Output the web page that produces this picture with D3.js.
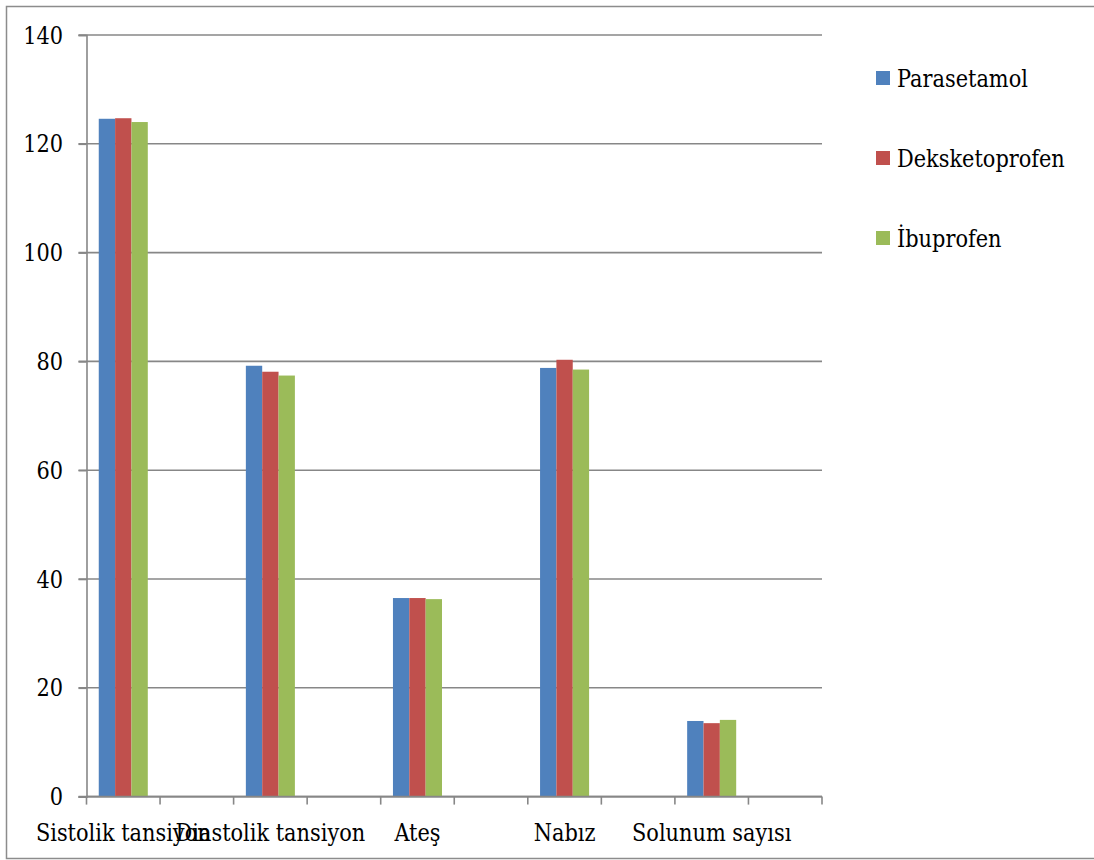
<!DOCTYPE html>
<html>
<head>
<meta charset="utf-8">
<script src="https://cdn.jsdelivr.net/npm/d3@7"></script>
<style>
  html, body { margin: 0; padding: 0; background: #fff; }
  svg { display: block; }
</style>
</head>
<body>
<svg id="chart" width="1094" height="860"></svg>
<script>
const categories = ["Sistolik tansiyon", "Diastolik tansiyon", "Ateş", "Nabız", "Solunum sayısı"];
const seriesNames = ["Parasetamol", "Deksketoprofen", "İbuprofen"];
const parasetamol = [124.6, 79.2, 36.5, 78.8, 13.9];
const deksketoprofen = [124.7, 78.1, 36.5, 80.3, 13.5];
const ibuprofen = [124.0, 77.4, 36.3, 78.5, 14.1];
const yTicks = [0, 20, 40, 60, 80, 100, 120, 140];
const colors = ["#4F81BD", "#C0504D", "#9BBB59"];

(function () {
const seriesValues = [parasetamol, deksketoprofen, ibuprofen];
const svg = d3.select("#chart");
const fontSize = 24;
const sx = 0.87;
const fontFam = '"DejaVu Serif", serif';

// outer frame (right edge cut off)
svg.append("path")
  .attr("d", "M1100,6.5 H6.5 V858.5 H1100")
  .attr("fill", "none").attr("stroke", "#8c8c8c").attr("stroke-width", 1.5);

const pLeft = 86.5, pRight = 822, pTop = 35, pBottom = 796.6;
const nSlots = categories.length * 2;
const x = d3.scaleBand().domain(d3.range(nSlots)).range([pLeft, pRight]).paddingInner(0).paddingOuter(0);
const x1 = d3.scaleBand().domain(d3.range(seriesNames.length)).range([0, x.bandwidth()]).paddingInner(0).paddingOuter(0.75);
const y = d3.scaleLinear().domain([0, 140]).range([pBottom, pTop]);

const gridColor = "#878787";

function label(g, tx, ty, anchor, dy, txt) {
  g.append("text")
    .attr("transform", `translate(${tx},${ty}) scale(${sx},1)`)
    .attr("text-anchor", anchor)
    .attr("dy", dy)
    .attr("font-family", fontFam)
    .attr("font-size", fontSize)
    .attr("fill", "#000")
    .text(txt);
}

// gridlines
svg.append("g").selectAll("line").data(yTicks).join("line")
  .attr("x1", pLeft - 8).attr("x2", pRight)
  .attr("y1", d => y(d)).attr("y2", d => y(d))
  .attr("stroke", gridColor).attr("stroke-width", 1.6);

// y axis
const yAxis = d3.axisLeft(y).tickValues(yTicks).tickSize(8).tickFormat("");
const gy = svg.append("g").attr("transform", `translate(${pLeft},0)`).call(yAxis);
gy.select(".domain").attr("stroke", gridColor).attr("stroke-width", 1.6);
gy.selectAll(".tick line").attr("stroke", gridColor).attr("stroke-width", 1.6);
gy.selectAll(".tick text").remove();
const yl = svg.append("g");
yTicks.forEach(t => label(yl, 63, y(t), "end", "0.36em", d3.format("d")(t)));

// bars
const groups = svg.append("g").selectAll("g").data(categories).join("g")
  .attr("transform", (d, i) => `translate(${x(i * 2)},0)`);
groups.selectAll("rect").data((d, i) => seriesValues.map((s, j) => ({ j, v: s[i] }))).join("rect")
  .attr("x", d => x1(d.j))
  .attr("width", x1.bandwidth())
  .attr("y", d => y(d.v))
  .attr("height", d => y(0) - y(d.v))
  .attr("fill", d => colors[d.j]);

// x axis line and ticks
svg.append("line").attr("x1", pLeft).attr("x2", pRight).attr("y1", pBottom).attr("y2", pBottom)
  .attr("stroke", gridColor).attr("stroke-width", 1.6);
const tickPos = d3.range(nSlots).map(i => x(i)).concat([pRight]);
svg.append("g").selectAll("line").data(tickPos).join("line")
  .attr("x1", d => d).attr("x2", d => d).attr("y1", pBottom).attr("y2", pBottom + 8)
  .attr("stroke", gridColor).attr("stroke-width", 1.6);

// category labels
const xl = svg.append("g");
categories.forEach((c, i) => label(xl, x(i * 2) + x.bandwidth() / 2, 841, "middle", 0, c));

// legend
const legendY = [78, 158, 238];
const lg = svg.append("g");
seriesNames.forEach((s, i) => {
  lg.append("rect").attr("x", 876).attr("y", legendY[i] - 7).attr("width", 14).attr("height", 14).attr("fill", colors[i]);
  label(lg, 897, legendY[i], "start", "0.36em", s);
});
})();
</script>
</body>
</html>
